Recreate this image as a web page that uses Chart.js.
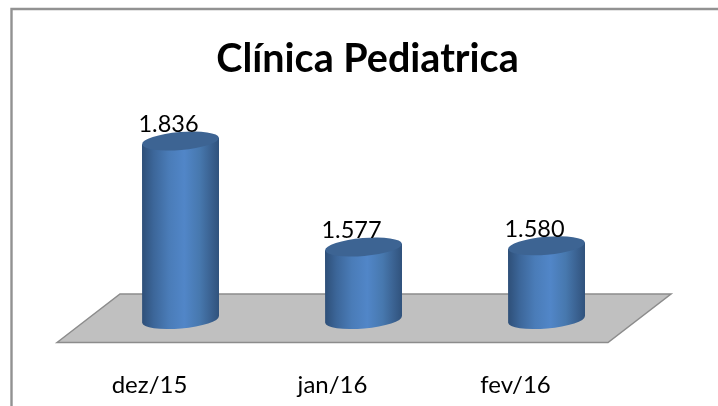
<!DOCTYPE html>
<html><head><meta charset="utf-8">
<style>html,body{margin:0;padding:0;background:#fff}#w{position:absolute;left:0;top:0;width:718px;height:406px}</style>
<script src="https://cdn.jsdelivr.net/npm/chart.js@4/dist/chart.umd.min.js"></script>
</head><body><div id="w"><canvas id="c" width="718" height="406"></canvas></div>
<script>
const categories = ["dez/15", "jan/16", "fev/16"];
const values = [1836, 1577, 1580];
const valueLabels = ["1.836", "1.577", "1.580"];
const chartTitle = "Clínica Pediatrica";
const axisMin = 1400;
const axisMax = 2000;

const cylinderPlugin = {
  id: 'cylinders',
  afterLayout(chart) {
    chart.titleBlock.left += 4;
    chart.titleBlock.right += 4;
  },
  beforeDraw(chart) {
    const c = chart.ctx;
    c.save();
    c.strokeStyle = '#929292'; c.lineWidth = 2.4;
    c.beginPath(); c.moveTo(11.5, 406); c.lineTo(11.5, 9); c.lineTo(718, 9); c.stroke();
    c.restore();
  },
  beforeDatasetsDraw(chart) {
    const c = chart.ctx, a = chart.chartArea, b = a.bottom;
    c.save();
    c.beginPath();
    c.moveTo(a.left - 32, b + 23);
    c.lineTo(a.left + 31, b - 25.5);
    c.lineTo(a.right + 33, b - 25.5);
    c.lineTo(a.right - 30, b + 23);
    c.closePath();
    c.fillStyle = '#c0c0c0'; c.fill();
    c.strokeStyle = '#8c8c8c'; c.lineWidth = 1.5; c.stroke();
    c.restore();
  },
  afterDatasetsDraw(chart) {
    const c = chart.ctx;
    const rx = 38.5, ry = 9, rot = -0.085;
    chart.getDatasetMeta(0).data.forEach((bar, i) => {
      const x = bar.x, top = bar.y, base = bar.base;
      const dy = Math.sin(rot) * rx;
      const g = c.createLinearGradient(x - rx, 0, x + rx, 0);
      g.addColorStop(0, '#2e4f78');
      g.addColorStop(0.15, '#3c6699');
      g.addColorStop(0.35, '#4a7cb8');
      g.addColorStop(0.55, '#5186c8');
      g.addColorStop(0.75, '#4778ae');
      g.addColorStop(0.9, '#3a6190');
      g.addColorStop(1, '#30527c');
      c.save();
      c.beginPath();
      c.moveTo(x - rx, top - dy);
      c.lineTo(x + rx, top + dy);
      c.lineTo(x + rx, base + dy);
      c.ellipse(x, base, rx, ry, rot, 0, Math.PI);
      c.lineTo(x - rx, top - dy);
      c.closePath();
      c.fillStyle = g; c.fill();
      c.beginPath();
      c.ellipse(x, top, rx, ry, rot, 0, Math.PI * 2);
      c.fillStyle = '#3d6493'; c.fill();
      c.fillStyle = '#000';
      c.font = '23.5px Lato, Carlito, sans-serif';
      c.textAlign = 'center'; c.textBaseline = 'alphabetic';
      c.fillText(valueLabels[i], x - 12, top - 9);
      c.restore();
    });
  }
};

new Chart(document.getElementById('c'), {
  type: 'bar',
  data: { labels: categories, datasets: [{ data: values, base: axisMin, backgroundColor: 'rgba(0,0,0,0)', barThickness: 77, borderWidth: 0 }] },
  options: {
    responsive: false, animation: false,
    layout: { padding: { left: 89, right: 80, top: 0, bottom: 0 } },
    plugins: {
      legend: { display: false }, tooltip: { enabled: false },
      title: { display: true, text: chartTitle, color: '#000', font: { family: 'Lato, Carlito, sans-serif', size: 39.5, weight: 'bold' }, padding: { top: 36, bottom: -9.5 } }
    },
    scales: {
      x: { grid: { display: false }, border: { display: false },
           afterFit(s) { s.height = 86.5; },
           ticks: { color: '#000', padding: 43, labelOffset: -31, maxRotation: 0, font: { family: 'Lato, Carlito, sans-serif', size: 24 } } },
      y: { display: false, min: axisMin, max: axisMax }
    }
  },
  plugins: [cylinderPlugin]
});
</script></body></html>
